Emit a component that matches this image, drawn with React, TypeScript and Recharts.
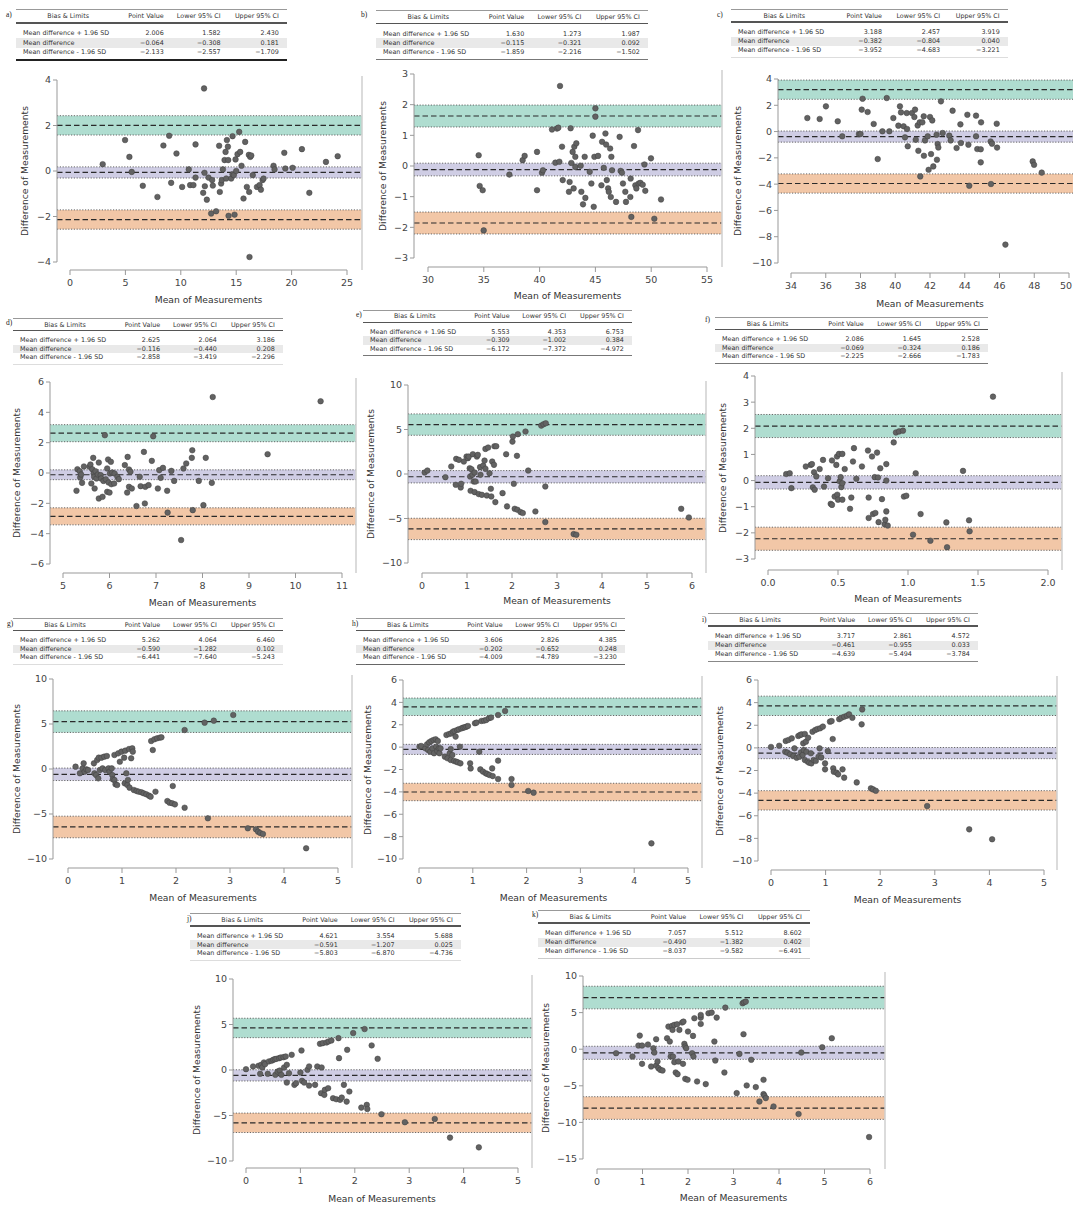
import React from 'react';
import { ScatterChart, Scatter, XAxis, YAxis, ReferenceArea, ReferenceLine } from 'recharts';

const FONT = '"DejaVu Sans", Verdana, sans-serif';
const PAGE_W = 1073;

// ---------- data ----------
const rowLabels = ['Mean difference + 1.96 SD', 'Mean difference', 'Mean difference - 1.96 SD'];
const colHeaders = ['Bias & Limits', 'Point Value', 'Lower 95% CI', 'Upper 95% CI'];
const panelLabels = ['a)', 'b)', 'c)', 'd)', 'e)', 'f)', 'g)', 'h)', 'i)', 'j)', 'k)'];

const aStats = [[2.006, 1.582, 2.430], [-0.064, -0.308, 0.181], [-2.133, -2.557, -1.709]];
const bStats = [[1.630, 1.273, 1.987], [-0.115, -0.321, 0.092], [-1.859, -2.216, -1.502]];
const cStats = [[3.188, 2.457, 3.919], [-0.382, -0.804, 0.040], [-3.952, -4.683, -3.221]];
const dStats = [[2.625, 2.064, 3.186], [-0.116, -0.440, 0.208], [-2.858, -3.419, -2.296]];
const eStats = [[5.553, 4.353, 6.753], [-0.309, -1.002, 0.384], [-6.172, -7.372, -4.972]];
const fStats = [[2.086, 1.645, 2.528], [-0.069, -0.324, 0.186], [-2.225, -2.666, -1.783]];
const gStats = [[5.262, 4.064, 6.460], [-0.590, -1.282, 0.102], [-6.441, -7.640, -5.243]];
const hStats = [[3.606, 2.826, 4.385], [-0.202, -0.652, 0.248], [-4.009, -4.789, -3.230]];
const iStats = [[3.717, 2.861, 4.572], [-0.461, -0.955, 0.033], [-4.639, -5.494, -3.784]];
const jStats = [[4.621, 3.554, 5.688], [-0.591, -1.207, 0.025], [-5.803, -6.870, -4.736]];
const kStats = [[7.057, 5.512, 8.602], [-0.490, -1.382, 0.402], [-8.037, -9.582, -6.491]];

const aXTicks = [0, 5, 10, 15, 20, 25];
const aYTicks = [-4, -2, 0, 2, 4];
const bXTicks = [30, 35, 40, 45, 50, 55];
const bYTicks = [-3, -2, -1, 0, 1, 2, 3];
const cXTicks = [34, 36, 38, 40, 42, 44, 46, 48, 50];
const cYTicks = [-10, -8, -6, -4, -2, 0, 2, 4];
const dXTicks = [5, 6, 7, 8, 9, 10, 11];
const dYTicks = [-6, -4, -2, 0, 2, 4, 6];
const eXTicks = [0, 1, 2, 3, 4, 5, 6];
const eYTicks = [-10, -5, 0, 5, 10];
const fXTicks = [0, 0.5, 1, 1.5, 2];
const fYTicks = [-3, -2, -1, 0, 1, 2, 3, 4];
const gXTicks = [0, 1, 2, 3, 4, 5];
const gYTicks = [-10, -5, 0, 5, 10];
const hXTicks = [0, 1, 2, 3, 4, 5];
const hYTicks = [-10, -8, -6, -4, -2, 0, 2, 4, 6];
const iXTicks = [0, 1, 2, 3, 4, 5];
const iYTicks = [-10, -8, -6, -4, -2, 0, 2, 4, 6];
const jXTicks = [0, 1, 2, 3, 4, 5];
const jYTicks = [-10, -5, 0, 5, 10];
const kXTicks = [0, 1, 2, 3, 4, 5, 6];
const kYTicks = [-15, -10, -5, 0, 5, 10];

const aPts = [[2.95,0.30],[4.97,1.36],[5.36,0.62],[5.57,-0.04],[6.57,-0.65],[7.89,-1.14],[8.43,1.12],[8.95,1.55],[9.13,-0.52],[9.61,0.77],[10.12,-0.70],[10.72,0.07],[10.84,-0.62],[11.14,-0.62],[11.33,1.17],[11.33,-0.29],[12.02,-0.96],[12.10,3.63],[12.17,-0.67],[12.14,-0.08],[12.35,-1.26],[12.50,-0.29],[12.74,-1.87],[12.83,-0.40],[12.89,-0.64],[13.19,-1.77],[13.46,1.11],[13.52,-0.92],[13.64,-0.55],[13.70,-0.40],[13.80,0.07],[13.95,0.48],[14.04,0.84],[14.10,-0.33],[14.16,1.36],[14.25,1.07],[14.28,0.48],[14.31,-1.97],[14.55,-0.33],[14.67,1.53],[14.67,-0.14],[14.79,-0.18],[14.85,-1.92],[14.94,0.51],[15.00,0.00],[15.12,0.74],[15.27,1.72],[15.36,0.84],[15.48,0.23],[15.66,-1.21],[15.81,1.28],[15.96,-0.70],[16.14,0.71],[16.17,-0.92],[16.20,-3.78],[16.27,0.62],[16.36,0.68],[16.50,-0.18],[16.87,-0.70],[17.11,-0.62],[17.23,-0.82],[17.38,-0.40],[17.47,-0.33],[18.37,0.23],[18.46,0.07],[19.34,0.80],[19.43,0.11],[20.09,0.14],[20.93,0.96],[21.60,-0.96],[23.10,0.40],[24.16,0.65]];
const bPts = [[34.54,0.35],[34.63,-0.65],[34.90,-0.79],[34.99,-2.10],[37.29,-0.28],[38.48,0.19],[38.66,0.33],[39.77,0.46],[39.77,-0.79],[40.21,-0.22],[40.30,-0.14],[41.11,1.19],[41.41,0.11],[41.56,1.22],[41.68,1.25],[41.77,0.14],[41.83,2.61],[42.01,0.63],[42.07,-0.46],[42.63,-0.84],[42.69,-0.52],[42.78,1.23],[42.84,0.10],[42.96,0.46],[43.05,-0.73],[43.11,0.63],[43.20,0.30],[43.20,-0.03],[43.29,0.74],[43.68,0.01],[43.74,-0.84],[43.89,-1.25],[44.04,0.30],[44.10,-1.04],[44.49,-0.19],[44.64,-0.57],[44.76,0.99],[44.85,-1.33],[44.91,0.30],[45.00,1.88],[45.00,1.61],[45.24,0.33],[45.54,-0.63],[45.60,0.79],[45.75,-0.06],[45.90,1.06],[45.96,0.70],[46.02,-0.46],[46.14,-0.73],[46.20,-0.84],[46.32,0.57],[46.38,-1.01],[46.43,0.30],[46.49,-0.14],[46.85,-1.17],[47.17,0.95],[47.26,-0.16],[47.38,-0.22],[47.47,-0.57],[47.68,-0.84],[47.74,-1.17],[48.13,-1.01],[48.16,-0.41],[48.22,-1.66],[48.46,0.65],[48.58,-0.63],[48.67,-0.73],[48.82,1.17],[48.88,-0.57],[49.03,-0.55],[49.24,-0.61],[49.39,0.05],[49.47,-0.81],[49.98,0.25],[50.28,-1.72],[50.88,-1.09]];
const cPts = [[34.94,1.03],[35.65,0.96],[36.01,1.92],[36.69,0.78],[36.95,-0.36],[37.91,-0.19],[38.00,-0.19],[38.07,1.67],[38.12,2.50],[38.41,1.49],[38.76,0.58],[38.99,-2.09],[39.26,0.02],[39.51,2.55],[39.66,0.02],[39.89,1.03],[40.18,0.45],[40.27,1.92],[40.33,1.46],[40.48,0.40],[40.56,-0.44],[40.66,1.41],[40.68,0.20],[40.72,-1.12],[40.96,1.41],[41.10,1.11],[41.14,1.67],[41.18,-0.62],[41.29,0.47],[41.33,-1.46],[41.41,0.70],[41.44,-3.41],[41.56,0.70],[41.64,1.16],[41.65,-1.84],[41.71,-0.67],[41.87,-0.36],[41.92,-2.91],[42.00,1.11],[42.06,-1.71],[42.13,0.85],[42.19,-2.65],[42.38,-0.24],[42.40,-2.14],[42.44,-0.95],[42.48,-1.21],[42.63,2.30],[42.73,-0.11],[43.11,-0.31],[43.19,-0.67],[43.30,1.59],[43.53,-1.25],[43.75,0.55],[43.78,-0.87],[44.15,1.28],[44.21,-1.00],[44.26,-4.12],[44.65,1.21],[44.65,-0.36],[44.72,-1.33],[44.92,-1.35],[44.92,-2.34],[44.94,0.70],[45.49,-0.75],[45.51,-3.99],[45.57,-0.92],[45.84,0.60],[45.86,-1.22],[46.34,-8.60],[47.91,-2.27],[47.99,-2.53],[48.43,-3.12]];
const dPts = [[5.29,-1.17],[5.31,0.25],[5.36,0.12],[5.37,-0.30],[5.39,-0.10],[5.41,-0.65],[5.45,0.43],[5.57,0.41],[5.59,0.56],[5.61,-0.69],[5.63,0.25],[5.65,1.00],[5.66,-0.03],[5.67,-0.25],[5.68,-1.02],[5.70,0.12],[5.72,-0.36],[5.75,-0.10],[5.77,-1.68],[5.77,0.69],[5.81,-0.14],[5.82,-0.36],[5.85,-1.57],[5.87,-0.52],[5.90,2.49],[5.92,-0.41],[5.95,-1.24],[5.95,0.30],[5.97,0.89],[5.98,-0.63],[6.00,-1.29],[6.01,-0.03],[6.03,0.74],[6.04,-0.74],[6.06,0.03],[6.10,-0.69],[6.11,-0.03],[6.17,-0.25],[6.20,-0.41],[6.33,0.52],[6.38,-1.29],[6.39,1.06],[6.42,0.23],[6.42,-0.91],[6.45,0.08],[6.48,-1.02],[6.58,-2.18],[6.65,-0.25],[6.67,-0.87],[6.74,1.39],[6.76,-2.01],[6.77,-0.91],[6.84,-0.80],[6.91,0.80],[6.94,2.42],[7.04,-1.02],[7.07,0.19],[7.10,-0.32],[7.15,0.34],[7.24,-1.17],[7.25,-2.61],[7.33,0.14],[7.39,-0.52],[7.54,-4.42],[7.59,0.30],[7.65,0.63],[7.77,1.00],[7.78,1.50],[7.79,-2.45],[7.92,-0.52],[8.02,-2.12],[8.07,1.00],[8.20,-0.65],[8.22,5.01],[9.40,1.24],[10.54,4.73]];
const ePts = [[0.06,0.17],[0.12,0.39],[0.52,-0.36],[0.65,0.84],[0.75,-1.21],[0.76,1.70],[0.82,1.59],[0.86,-1.51],[0.87,-1.10],[0.93,1.40],[0.99,1.96],[1.02,1.78],[1.04,1.96],[1.06,0.65],[1.07,-0.28],[1.08,-1.89],[1.10,0.54],[1.12,-0.09],[1.13,2.22],[1.15,-0.84],[1.17,0.17],[1.17,-2.04],[1.19,-0.84],[1.22,1.96],[1.24,2.15],[1.26,-2.26],[1.29,0.77],[1.30,-0.09],[1.33,-2.34],[1.36,0.95],[1.39,1.51],[1.41,2.82],[1.41,0.58],[1.44,-2.41],[1.47,2.97],[1.50,0.09],[1.53,-1.66],[1.54,-2.52],[1.56,1.40],[1.60,1.03],[1.61,3.12],[1.63,-3.16],[1.65,3.12],[1.79,-2.15],[1.87,2.22],[1.89,-3.64],[2.01,3.64],[2.02,4.21],[2.04,-1.10],[2.06,-3.91],[2.11,2.04],[2.12,-4.02],[2.13,4.47],[2.19,-4.28],[2.24,-4.39],[2.30,4.77],[2.36,0.39],[2.52,-4.21],[2.65,5.44],[2.70,5.59],[2.75,5.70],[2.74,-1.40],[2.74,-5.40],[3.37,-6.75],[3.43,-6.82],[5.76,-3.91],[5.93,-4.88]];
const fPts = [[0.13,0.25],[0.155,0.28],[0.167,-0.29],[0.27,0.54],[0.305,0.60],[0.314,0.63],[0.32,-0.26],[0.329,0.32],[0.333,-0.35],[0.345,0.16],[0.369,0.44],[0.393,0.79],[0.40,-0.23],[0.429,0.09],[0.448,-0.89],[0.457,-0.93],[0.457,0.77],[0.476,-0.61],[0.488,0.60],[0.493,0.92],[0.495,-0.54],[0.50,-0.73],[0.507,1.02],[0.512,-0.03],[0.519,0.13],[0.524,-0.25],[0.531,-0.10],[0.531,1.02],[0.531,-0.73],[0.548,0.44],[0.586,-1.08],[0.595,-0.65],[0.607,0.73],[0.614,1.24],[0.631,0.07],[0.671,0.54],[0.714,1.15],[0.719,-0.65],[0.719,-1.43],[0.743,0.92],[0.75,-1.28],[0.762,0.13],[0.767,-1.24],[0.779,1.07],[0.786,0.12],[0.79,-1.59],[0.802,0.47],[0.814,-0.71],[0.833,-1.67],[0.838,-1.50],[0.845,-1.18],[0.845,0.63],[0.845,0.00],[0.855,-1.72],[0.898,1.46],[0.914,1.84],[0.936,1.88],[0.964,1.91],[0.971,-0.61],[0.988,-0.58],[1.036,-2.07],[1.055,0.28],[1.09,-1.28],[1.16,-2.30],[1.274,-1.60],[1.279,-2.55],[1.393,0.37],[1.436,-1.52],[1.44,-1.94],[1.607,3.21]];
const gPts = [[0.14,0.26],[0.22,-0.48],[0.27,0.07],[0.29,0.63],[0.31,-0.30],[0.34,-0.04],[0.37,-0.11],[0.48,0.63],[0.49,-0.48],[0.52,-0.67],[0.54,1.00],[0.56,-1.04],[0.57,1.26],[0.59,-0.11],[0.62,1.26],[0.64,0.07],[0.67,1.37],[0.69,-0.11],[0.72,1.44],[0.75,0.07],[0.77,-0.30],[0.81,0.07],[0.82,-0.67],[0.83,-1.15],[0.86,1.56],[0.86,-1.22],[0.88,-1.70],[0.91,-1.78],[0.93,1.74],[0.96,0.81],[0.99,1.93],[1.04,1.26],[1.05,-1.59],[1.06,2.04],[1.08,-0.48],[1.10,-1.78],[1.11,-1.22],[1.13,2.22],[1.14,-2.07],[1.17,1.19],[1.19,2.30],[1.20,1.93],[1.22,-2.33],[1.27,-2.44],[1.31,-2.52],[1.36,-2.59],[1.40,-2.70],[1.45,-2.81],[1.50,-2.96],[1.53,-3.07],[1.54,3.11],[1.57,2.11],[1.60,3.30],[1.62,-2.52],[1.65,3.41],[1.70,3.48],[1.73,3.52],[1.84,-3.56],[1.88,-3.74],[1.93,-3.81],[1.94,-1.89],[1.98,-3.93],[2.16,4.33],[2.16,-4.30],[2.53,5.15],[2.59,-5.48],[2.70,5.37],[3.06,6.00],[3.33,-6.59],[3.48,-6.70],[3.52,-6.96],[3.56,-7.11],[3.61,-7.22],[4.41,-8.81]];
const hPts = [[0.01,0.04],[0.04,0.10],[0.12,-0.11],[0.15,0.25],[0.17,-0.26],[0.19,0.43],[0.21,-0.41],[0.23,0.55],[0.25,-0.11],[0.27,0.64],[0.28,-0.55],[0.31,0.70],[0.32,0.04],[0.34,-0.35],[0.35,0.55],[0.37,-0.11],[0.38,-0.55],[0.40,-0.11],[0.48,-0.85],[0.51,1.09],[0.53,-1.00],[0.56,1.17],[0.57,-0.55],[0.59,-0.17],[0.59,-1.15],[0.60,1.23],[0.62,-0.70],[0.63,1.38],[0.65,-1.24],[0.66,1.44],[0.68,0.94],[0.69,-1.30],[0.71,1.53],[0.72,-1.36],[0.74,1.59],[0.76,0.04],[0.77,-1.45],[0.79,1.68],[0.82,1.74],[0.85,1.77],[0.88,1.83],[0.91,1.89],[0.95,-1.45],[0.96,-1.90],[1.04,2.13],[1.07,2.19],[1.12,-0.41],[1.14,-1.99],[1.16,2.34],[1.19,-2.19],[1.21,2.37],[1.24,-2.34],[1.25,2.43],[1.27,-2.40],[1.30,2.58],[1.31,-2.49],[1.34,2.64],[1.36,-1.90],[1.37,-2.59],[1.47,2.87],[1.47,-1.21],[1.47,-2.85],[1.60,3.23],[1.72,-2.85],[1.72,-3.38],[2.03,-3.92],[2.13,-4.07],[4.32,-8.60]];
const iPts = [[0.00,0.08],[0.15,0.19],[0.26,-0.34],[0.27,0.61],[0.30,-0.42],[0.32,0.70],[0.35,-0.57],[0.38,0.84],[0.41,-0.72],[0.43,-0.04],[0.47,-0.87],[0.50,1.05],[0.52,-0.78],[0.53,1.14],[0.55,-0.39],[0.56,1.19],[0.58,-0.63],[0.59,0.40],[0.60,-0.19],[0.62,1.23],[0.62,-1.07],[0.64,0.55],[0.65,-0.34],[0.67,-1.22],[0.68,0.90],[0.70,-1.31],[0.73,-0.48],[0.74,-1.37],[0.76,1.43],[0.78,-1.07],[0.81,1.58],[0.82,-1.16],[0.85,1.67],[0.87,-0.78],[0.89,-0.04],[0.90,1.73],[0.92,-0.84],[0.95,1.88],[0.99,-1.37],[0.99,-1.90],[1.04,-0.28],[1.08,2.32],[1.11,2.37],[1.13,0.78],[1.14,-1.81],[1.15,-2.11],[1.20,-2.19],[1.23,-2.34],[1.25,2.54],[1.29,2.66],[1.31,-1.90],[1.34,-2.63],[1.34,2.75],[1.39,2.84],[1.43,2.96],[1.49,2.66],[1.57,-3.05],[1.66,2.08],[1.67,3.40],[1.83,-3.58],[1.87,-3.67],[1.92,-3.79],[2.86,-5.14],[3.63,-7.20],[4.05,-8.08]];
const jPts = [[0.00,0.09],[0.13,0.39],[0.23,0.46],[0.26,-0.42],[0.28,0.57],[0.30,0.28],[0.33,0.83],[0.35,0.64],[0.40,-0.42],[0.42,0.94],[0.47,1.01],[0.50,1.12],[0.53,1.19],[0.54,-0.53],[0.56,1.23],[0.58,-0.17],[0.61,1.30],[0.62,-0.06],[0.64,1.38],[0.65,-0.53],[0.69,1.41],[0.70,0.28],[0.73,1.49],[0.75,-1.38],[0.75,0.57],[0.79,-0.35],[0.84,1.67],[0.89,-1.63],[0.92,-1.45],[1.00,-0.28],[1.02,2.15],[1.03,-1.19],[1.07,-1.38],[1.13,0.02],[1.16,0.39],[1.16,-1.71],[1.27,-1.63],[1.31,0.39],[1.36,2.88],[1.38,-2.55],[1.39,0.28],[1.41,2.95],[1.44,-2.73],[1.45,-2.18],[1.48,3.03],[1.51,-2.00],[1.52,3.14],[1.57,3.25],[1.60,-3.10],[1.66,-3.21],[1.70,3.50],[1.71,1.30],[1.73,-3.28],[1.76,-3.03],[1.80,-1.63],[1.85,-3.47],[1.86,2.22],[1.90,-2.37],[1.97,4.06],[2.12,-4.13],[2.18,4.50],[2.22,-3.83],[2.23,-4.28],[2.31,2.70],[2.42,1.23],[2.49,-4.86],[2.92,-5.74],[3.47,-5.38],[3.75,-7.43],[4.28,-8.50]];
const kPts = [[0.42,-0.55],[0.78,-1.00],[0.91,0.50],[0.94,1.86],[0.99,0.50],[0.99,-2.00],[1.12,0.64],[1.19,-2.36],[1.24,0.14],[1.26,-0.45],[1.30,1.36],[1.30,-2.23],[1.33,-1.68],[1.35,-2.59],[1.39,-2.82],[1.44,-2.91],[1.54,1.50],[1.57,3.09],[1.60,1.05],[1.62,-1.00],[1.65,3.18],[1.66,2.64],[1.67,-1.00],[1.70,3.32],[1.70,-1.77],[1.73,-3.18],[1.76,3.41],[1.77,-3.41],[1.79,-1.68],[1.81,2.64],[1.87,3.64],[1.89,-2.00],[1.90,3.77],[1.92,0.73],[1.94,-4.05],[1.94,0.36],[1.96,0.14],[1.99,-4.18],[2.00,2.41],[2.09,-0.55],[2.11,1.82],[2.12,-1.00],[2.14,4.23],[2.20,-4.41],[2.28,4.32],[2.28,4.68],[2.28,3.45],[2.39,-4.77],[2.45,4.91],[2.52,5.00],[2.58,1.05],[2.60,-1.55],[2.63,4.32],[2.82,5.68],[2.80,-3.18],[3.07,-6.00],[3.13,-0.64],[3.20,6.27],[3.23,6.41],[3.27,6.50],[3.22,2.05],[3.29,-4.95],[3.39,-1.45],[3.49,-5.18],[3.57,-7.14],[3.66,-4.18],[3.66,-6.14],[3.68,-6.36],[3.71,-6.68],[3.88,-7.82],[4.43,-8.86],[4.49,-0.45],[4.95,0.27],[5.16,1.50],[5.98,-12.00]];

// ---------- layout (page pixels) ----------
type Layout = {
  tTop: number; tLeft: number; tRight: number; tH: number; labX: number; labY: number; tBottom: string;
  pL: number; pR: number; pT: number; pB: number;
  xPx: [number, number]; yPx: [number, number];
  xTitleY: number; yTitleX: number; border: boolean; xDec: number;
};

const layouts: Layout[] = [
  { tTop: 9, tLeft: 16, tRight: 287, tH: 51, labX: 6, labY: 15, tBottom: '2px solid #222', pL: 57, pR: 362, pT: 76, pB: 270, xPx: [70, 347], yPx: [262, 80], xTitleY: 300, yTitleX: 25, border: true, xDec: 0 },
  { tTop: 10, tLeft: 376, tRight: 648, tH: 50, labX: 361, labY: 15, tBottom: '1px solid #777', pL: 414, pR: 722, pT: 70, pB: 267, xPx: [428, 707], yPx: [258, 74], xTitleY: 296, yTitleX: 383, border: true, xDec: 0 },
  { tTop: 9, tLeft: 731, tRight: 1008, tH: 49, labX: 717, labY: 15, tBottom: '1px solid #ddd', pL: 778, pR: 1073, pT: 75, pB: 273, xPx: [791, 1069], yPx: [263, 79], xTitleY: 304, yTitleX: 738, border: false, xDec: 0 },
  { tTop: 318, tLeft: 13, tRight: 283, tH: 47, labX: 6, labY: 323, tBottom: '1px solid #ddd', pL: 50, pR: 356, pT: 378, pB: 573, xPx: [63, 342], yPx: [564, 382], xTitleY: 603, yTitleX: 17, border: true, xDec: 0 },
  { tTop: 310, tLeft: 363, tRight: 632, tH: 46, labX: 356, labY: 315, tBottom: '1px solid #777', pL: 408, pR: 706, pT: 381, pB: 573, xPx: [422, 692], yPx: [563, 385], xTitleY: 601, yTitleX: 371, border: true, xDec: 0 },
  { tTop: 317, tLeft: 715, tRight: 988, tH: 47, labX: 705, labY: 320, tBottom: '1px solid #777', pL: 755, pR: 1062, pT: 372, pB: 570, xPx: [768, 1048], yPx: [559, 376], xTitleY: 599, yTitleX: 723, border: true, xDec: 1 },
  { tTop: 618, tLeft: 13, tRight: 283, tH: 47, labX: 7, labY: 624, tBottom: '1px solid #ddd', pL: 53, pR: 352, pT: 675, pB: 868, xPx: [68, 338], yPx: [859, 679], xTitleY: 898, yTitleX: 17, border: true, xDec: 0 },
  { tTop: 618, tLeft: 356, tRight: 625, tH: 47, labX: 352, labY: 624, tBottom: '1px solid #666', pL: 403, pR: 702, pT: 676, pB: 868, xPx: [419, 688], yPx: [859, 680], xTitleY: 898, yTitleX: 368, border: true, xDec: 0 },
  { tTop: 613, tLeft: 708, tRight: 978, tH: 49, labX: 702, labY: 620, tBottom: '1px solid #888', pL: 758, pR: 1057, pT: 676, pB: 870, xPx: [771, 1044], yPx: [861, 680], xTitleY: 900, yTitleX: 720, border: true, xDec: 0 },
  { tTop: 913, tLeft: 190, tRight: 461, tH: 48, labX: 187, labY: 919, tBottom: '1px solid #ddd', pL: 233, pR: 532, pT: 975, pB: 1168, xPx: [246, 518], yPx: [1161, 979], xTitleY: 1199, yTitleX: 197, border: true, xDec: 0 },
  { tTop: 910, tLeft: 538, tRight: 810, tH: 49, labX: 532, labY: 915, tBottom: '1px solid #ccc', pL: 583, pR: 885, pT: 972, pB: 1169, xPx: [597, 870], yPx: [1159, 976], xTitleY: 1198, yTitleX: 546, border: true, xDec: 0 },
];

const allStats = [aStats, bStats, cStats, dStats, eStats, fStats, gStats, hStats, iStats, jStats, kStats];
const allXTicks = [aXTicks, bXTicks, cXTicks, dXTicks, eXTicks, fXTicks, gXTicks, hXTicks, iXTicks, jXTicks, kXTicks];
const allYTicks = [aYTicks, bYTicks, cYTicks, dYTicks, eYTicks, fYTicks, gYTicks, hYTicks, iYTicks, jYTicks, kYTicks];
const allPts = [aPts, bPts, cPts, dPts, ePts, fPts, gPts, hPts, iPts, jPts, kPts];

const bandFills = ['#1B9E77', '#7570B3', '#D95F02'];

const fmt = (v: number, d: number) => (v < 0 ? '\u2212' : '') + Math.abs(v).toFixed(d);

function StatTable({ label, stats, L }: { label: string; stats: number[][]; L: Layout }) {
  const W = L.tRight - L.tLeft;
  const H = L.tH;
  const fs = 6.4;
  const rowC = [0.47, 0.66, 0.84];
  const colR = [0.545, 0.755, 0.97];
  const txt = (cy: number, content: string, style: React.CSSProperties, key: string) => (
    <div key={key} style={{ position: 'absolute', top: cy - 5, height: 10, lineHeight: '10px', whiteSpace: 'nowrap', fontSize: fs, color: '#333', fontFamily: FONT, ...style }}>{content}</div>
  );
  return (
    <>
      <div style={{ position: 'absolute', left: L.labX, top: L.labY - 5, lineHeight: '10px', fontSize: 7.5, fontFamily: '"Liberation Serif", serif', color: '#222' }}>{label}</div>
      <div style={{ position: 'absolute', left: L.tLeft, top: L.tTop, width: W, height: H }}>
        <div style={{ position: 'absolute', left: 0, top: 0, width: W, height: 1, background: '#999' }} />
        <div style={{ position: 'absolute', left: 0, top: H * 0.27 - 0.75, width: W, height: 1.5, background: '#555' }} />
        <div style={{ position: 'absolute', left: 0, top: H * 0.565, width: W, height: H * 0.19, background: '#e9e9e9' }} />
        <div style={{ position: 'absolute', left: 0, top: H - 1, width: W, borderTop: L.tBottom }} />
        {txt(H * 0.14, colHeaders[0], { left: 0, width: W * 0.385, textAlign: 'center' }, 'h0')}
        {colHeaders.slice(1).map((h, i) => txt(H * 0.14, h, { right: W * (1 - colR[i]) }, 'h' + (i + 1)))}
        {rowLabels.map((r, ri) => txt(H * rowC[ri], r, { left: 7 }, 'r' + ri))}
        {stats.map((row, ri) => row.map((v, ci) => txt(H * rowC[ri], fmt(v, 3), { right: W * (1 - colR[ci]) }, 'v' + ri + ci)))}
      </div>
    </>
  );
}

const Dot = (props: any) => (
  <circle cx={props.cx} cy={props.cy} r={2.8} fill="#626262" stroke="#404040" strokeWidth={0.5} />
);

function Panel({ idx }: { idx: number }) {
  const L = layouts[idx];
  const stats = allStats[idx];
  const xt = allXTicks[idx];
  const yt = allYTicks[idx];
  const data = allPts[idx].map(([x, y]) => ({ x, y }));
  const ML = 40, MB = 26, MT = 2, MR = 2;
  const x0 = xt[0], x1 = xt[xt.length - 1];
  const kx = (x1 - x0) / (L.xPx[1] - L.xPx[0]);
  const xMin = x0 + (L.pL - L.xPx[0]) * kx;
  const xMax = x0 + (L.pR - L.xPx[0]) * kx;
  const y0 = yt[0], y1 = yt[yt.length - 1];
  const ky = (y1 - y0) / (L.yPx[0] - L.yPx[1]);
  const yMin = y0 - (L.pB - L.yPx[0]) * ky;
  const yMax = y1 + (L.yPx[1] - L.pT) * ky;
  const chartLeft = L.pL - ML;
  const width = L.pR - L.pL + ML + MR;
  const height = L.pB - L.pT + MT + MB;
  const pageRight = PAGE_W - chartLeft;
  const XTick = (props: any) => {
    const { x, y, payload } = props;
    const label = fmt(payload.value, L.xDec);
    const half = label.length * 3.1;
    const overflow = x + half > pageRight;
    return (
      <text x={overflow ? pageRight - 1 : x} y={y} dy="0.71em" textAnchor={overflow ? 'end' : 'middle'}
        fontSize={9.5} fill="#444" fontFamily={FONT}>{label}</text>
    );
  };
  const titleStyle: React.CSSProperties = { position: 'absolute', whiteSpace: 'nowrap', fontSize: 9.2, color: '#333', fontFamily: FONT, lineHeight: '12px' };
  return (
    <>
      <StatTable label={panelLabels[idx]} stats={stats} L={L} />
      <div style={{ position: 'absolute', left: chartLeft, top: L.pT - MT }}>
        <ScatterChart width={width} height={height} margin={{ top: MT, right: MR, bottom: 0, left: 0 }}>
          <XAxis type="number" dataKey="x" domain={[xMin, xMax]} allowDataOverflow ticks={xt} interval={0}
            axisLine={false} tickLine={{ stroke: '#999' }} tickSize={5} tickMargin={4} height={MB}
            tick={XTick} />
          <YAxis type="number" dataKey="y" domain={[yMin, yMax]} allowDataOverflow ticks={yt} interval={0}
            axisLine={false} tickLine={{ stroke: '#999' }} tickSize={4} tickMargin={2} width={ML}
            tick={{ fontSize: 9.5, fill: '#444', fontFamily: FONT }} tickFormatter={(v: number) => fmt(v, 0)} />
          {stats.map((row, i) => (
            <ReferenceArea key={'ra' + i} y1={row[1]} y2={row[2]} fill={bandFills[i]} fillOpacity={0.35} stroke="none" ifOverflow="visible" />
          ))}
          {stats.map((row, i) => (
            <ReferenceLine key={'lo' + i} y={row[1]} stroke="#666" strokeWidth={1} strokeDasharray="1.2 1.6" ifOverflow="visible" />
          ))}
          {stats.map((row, i) => (
            <ReferenceLine key={'hi' + i} y={row[2]} stroke="#666" strokeWidth={1} strokeDasharray="1.2 1.6" ifOverflow="visible" />
          ))}
          {stats.map((row, i) => (
            <ReferenceLine key={'pv' + i} y={row[0]} stroke="#2a2a2a" strokeWidth={1.2} strokeDasharray="5.5 3" ifOverflow="visible" />
          ))}
          <ReferenceLine segment={[{ x: x0, y: yMin }, { x: x1, y: yMin }]} stroke="#999" strokeWidth={1} ifOverflow="visible" />
          <ReferenceLine segment={[{ x: xMin, y: y0 }, { x: xMin, y: y1 }]} stroke="#999" strokeWidth={1} ifOverflow="visible" />
          {L.border && <ReferenceLine x={xMax} stroke="#cfcfcf" strokeWidth={1.5} ifOverflow="visible" />}
          <Scatter data={data} isAnimationActive={false} shape={Dot} />
        </ScatterChart>
      </div>
      <div style={{ ...titleStyle, left: (L.xPx[0] + L.xPx[1]) / 2, top: L.xTitleY - 6, transform: 'translateX(-50%)' }}>Mean of Measurements</div>
      <div style={{ ...titleStyle, left: L.yTitleX, top: (L.yPx[0] + L.yPx[1]) / 2, transform: 'translate(-50%, -50%) rotate(-90deg)' }}>Difference of Measurements</div>
    </>
  );
}

export default function App() {
  return (
    <div style={{ position: 'absolute', left: 0, top: 0, width: PAGE_W, height: 1205, overflow: 'hidden', background: '#fff' }}>
      {layouts.map((_, i) => <Panel key={i} idx={i} />)}
    </div>
  );
}
